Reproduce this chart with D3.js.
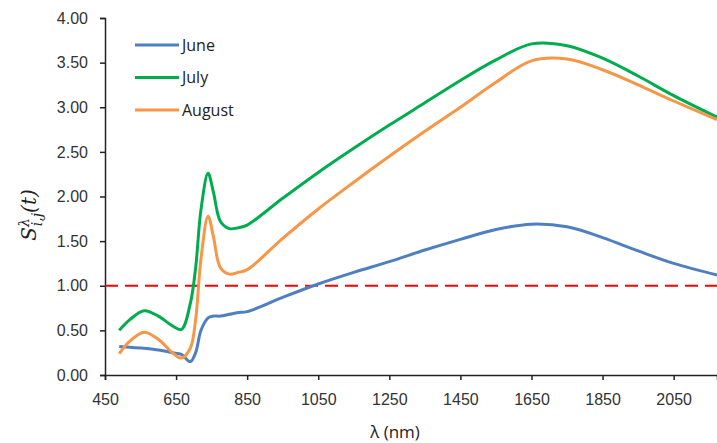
<!DOCTYPE html>
<html lang="en">
<head>
<meta charset="UTF-8">
<script src="https://d3js.org/d3.v7.min.js"></script>
<style>
  body { margin: 0; background: #fff; }
  svg { font-family: "Open Sans", "Liberation Sans", sans-serif; }
  .tick text { font-size: 16px; fill: #333; }
</style>
</head>
<body>
<div id="chart"></div>
<script>
// wavelengths (nm)
var wavelengths = [490, 520, 560, 600, 640, 665, 690, 705, 720, 740, 755, 775, 800, 825, 850, 950, 1050, 1150, 1250, 1350, 1450, 1550, 1650, 1750, 1850, 1950, 2050, 2172];
var june   = [0.32, 0.31, 0.30, 0.28, 0.25, 0.23, 0.15, 0.25, 0.50, 0.64, 0.66, 0.66, 0.68, 0.70, 0.71, 0.87, 1.02, 1.15, 1.27, 1.40, 1.52, 1.63, 1.69, 1.66, 1.54, 1.39, 1.25, 1.12];
var july   = [0.50, 0.62, 0.72, 0.66, 0.55, 0.51, 0.80, 1.20, 1.85, 2.26, 2.05, 1.72, 1.64, 1.65, 1.68, 1.98, 2.27, 2.54, 2.80, 3.05, 3.30, 3.53, 3.71, 3.69, 3.55, 3.35, 3.13, 2.89];
var august = [0.24, 0.38, 0.48, 0.40, 0.25, 0.19, 0.30, 0.62, 1.30, 1.78, 1.55, 1.20, 1.13, 1.15, 1.18, 1.53, 1.86, 2.16, 2.45, 2.73, 3.00, 3.28, 3.52, 3.54, 3.42, 3.25, 3.07, 2.86];
var seriesNames = ["June", "July", "August"];
var seriesColors = ["#4F7FC3", "#00AD4E", "#F79646"];
var xTicks = [450, 650, 850, 1050, 1250, 1450, 1650, 1850, 2050];
var yTicks = [0, 0.5, 1, 1.5, 2, 2.5, 3, 3.5, 4];
var threshold = 1.0;

var width = 717, height = 443;
var svg = d3.select('#chart').append('svg')
    .attr('width', width)
    .attr('height', height);

var x = d3.scaleLinear().domain([450, 2172]).range([105, 717]);
var y = d3.scaleLinear().domain([0, 4]).range([375, 18]);

// y axis
var yAxis = svg.append('g')
    .attr('transform', 'translate(105,0)')
    .call(d3.axisLeft(y).tickValues(yTicks).tickSize(5).tickPadding(12).tickFormat(d3.format('.2f')));
// x axis
var xAxis = svg.append('g')
    .attr('transform', 'translate(0,375)')
    .call(d3.axisBottom(x).tickValues(xTicks).tickSize(5).tickPadding(11).tickFormat(d3.format('d')));

[yAxis, xAxis].forEach(function(a) {
    a.select('.domain').attr('stroke', '#222').attr('stroke-width', 1.5);
    a.selectAll('.tick line').attr('stroke', '#222').attr('stroke-width', 1.5);
});
xAxis.selectAll('.tick text').attr('dy', '0.9em');

// threshold line
svg.append('line')
    .attr('x1', x(450)).attr('x2', x(2172))
    .attr('y1', y(threshold)).attr('y2', y(threshold))
    .attr('stroke', '#FF0000')
    .attr('stroke-width', 2)
    .attr('stroke-dasharray', '13,7');

var allSeries = [june, july, august];
var line = d3.line()
    .x(function(d) { return x(d[0]); })
    .y(function(d) { return y(d[1]); })
    .curve(d3.curveCatmullRom.alpha(0.5));

allSeries.forEach(function(vals, i) {
    var pts = wavelengths.map(function(w, j) { return [w, vals[j]]; });
    svg.append('path')
        .datum(pts)
        .attr('d', line)
        .attr('fill', 'none')
        .attr('stroke', seriesColors[i])
        .attr('stroke-width', 3);
});

// legend
var legend = svg.selectAll('.legend')
    .data(seriesNames)
    .enter()
    .append('g')
    .attr('class', 'legend')
    .attr('transform', function(d, i) { return 'translate(135,' + (45 + i * 32.5) + ')'; });
legend.append('line')
    .attr('x1', 0).attr('x2', 44)
    .attr('stroke', function(d, i) { return seriesColors[i]; })
    .attr('stroke-width', 3);
legend.append('text')
    .attr('x', 47)
    .attr('dy', '0.35em')
    .style('font-size', '16px')
    .attr('fill', '#222')
    .text(function(d) { return d; });

// axis titles
svg.append('text')
    .attr('x', 395).attr('y', 438)
    .attr('text-anchor', 'middle')
    .style('font-size', '17px')
    .attr('fill', '#222')
    .text('λ (nm)');

var yl = svg.append('text')
    .attr('transform', 'translate(36,215) rotate(-90)')
    .attr('text-anchor', 'middle')
    .style('font-family', '"DejaVu Serif", serif')
    .style('font-style', 'italic')
    .style('font-size', '20px')
    .attr('fill', '#222');
yl.append('tspan').text('S');
yl.append('tspan').attr('dy', '-7').style('font-size', '14px').text('λ');
yl.append('tspan').attr('dx', '-8').attr('dy', '13').style('font-size', '14px').text('i,j');
yl.append('tspan').attr('dy', '-6').text('(t)');
</script>
</body>
</html>
